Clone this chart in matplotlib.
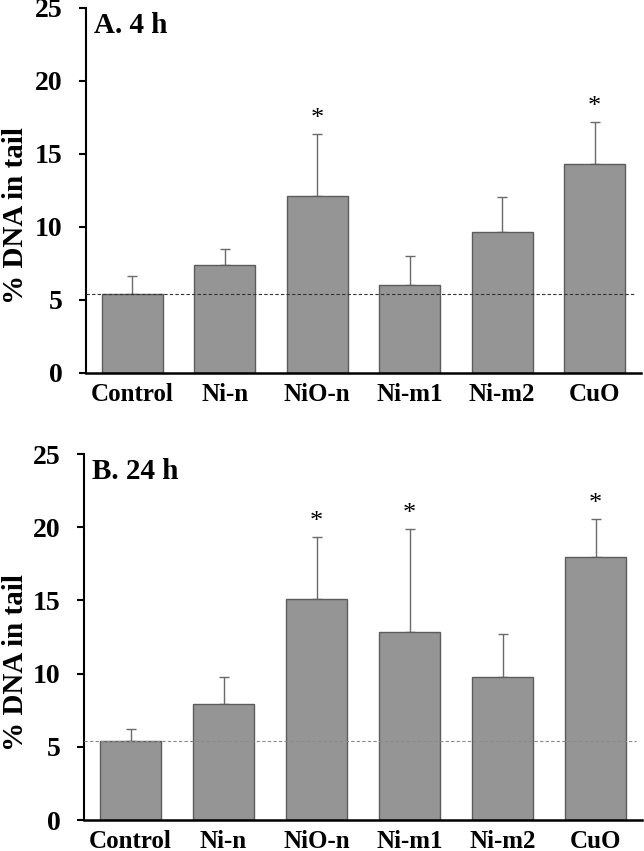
import matplotlib
matplotlib.use("Agg")
import matplotlib.pyplot as plt
import numpy as np

plt.rcParams['font.family'] = ['Liberation Serif', 'DejaVu Serif']
plt.rcParams['font.weight'] = 'bold'

groups = ['Control', 'Ni-n', 'NiO-n', 'Ni-m1', 'Ni-m2', 'CuO']

# Panel A: 4 h
mean_4h = [5.41, 7.40, 12.12, 6.03, 9.66, 14.32]
err_4h = [1.23, 1.09, 4.25, 2.00, 2.39, 2.87]
sig_4h = [False, False, True, False, False, True]

# Panel B: 24 h
mean_24h = [5.40, 7.92, 15.10, 12.84, 9.77, 17.96]
err_24h = [0.82, 1.85, 4.23, 7.04, 2.93, 2.60]
sig_24h = [False, False, True, True, False, True]

yticks = [0, 5, 10, 15, 20, 25]

bar_color = '#959595'
edge_color = '#5c5c5c'


def draw_panel(ax, means, errs, sig, title, dash_color, label_x):
    x = np.arange(len(groups))
    ax.bar(x, means, width=0.66, color=bar_color, edgecolor=edge_color,
           linewidth=1.0, zorder=2)
    ax.errorbar(x, means, yerr=[np.zeros(len(errs)), errs], fmt='none',
                ecolor='#6a6a6a', elinewidth=1.0, capsize=3.5, capthick=1.0,
                zorder=1)
    # control baseline
    ax.axhline(means[0], color=dash_color, linestyle=(0, (3, 2)),
               linewidth=0.8, xmax=0.99, zorder=3)
    for xi, m, e, s in zip(x, means, errs, sig):
        if s:
            ax.text(xi, m + e + 0.25, '*', ha='center', va='bottom',
                    fontsize=19, fontweight='normal')

    ax.set_xlim(-0.5, len(groups) - 0.5)
    ax.set_ylim(0, 25)
    ax.set_yticks(yticks)
    ax.set_xticks(x)
    ax.set_xticklabels(groups, fontsize=18, fontweight='bold')
    ax.tick_params(axis='y', labelsize=20, length=5, width=1.5,
                   direction='out', pad=12)
    ax.tick_params(axis='x', length=0, pad=7)
    for lab in ax.get_yticklabels():
        lab.set_fontweight('bold')
    ax.spines['top'].set_visible(False)
    ax.spines['right'].set_visible(False)
    ax.spines['left'].set_linewidth(1.5)
    ax.spines['bottom'].set_linewidth(1.8)
    ax.set_ylabel('% DNA in tail', fontsize=21, fontweight='bold')
    ax.yaxis.set_label_coords(label_x, 0.43)
    ax.text(0.015, 0.99, title, transform=ax.transAxes, ha='left', va='top',
            fontsize=21, fontweight='bold')


fig = plt.figure(figsize=(6.44, 8.51), dpi=100)
ax1 = fig.add_axes([0.1335, 0.5617, 0.8615, 0.4289])
ax2 = fig.add_axes([0.1305, 0.0364, 0.8665, 0.4301])

draw_panel(ax1, mean_4h, err_4h, sig_4h, 'A. 4 h', '#333333', -0.103)
draw_panel(ax2, mean_24h, err_24h, sig_24h, 'B. 24 h', '#8a8a8a', -0.098)

fig.savefig('out.png', dpi=100)
